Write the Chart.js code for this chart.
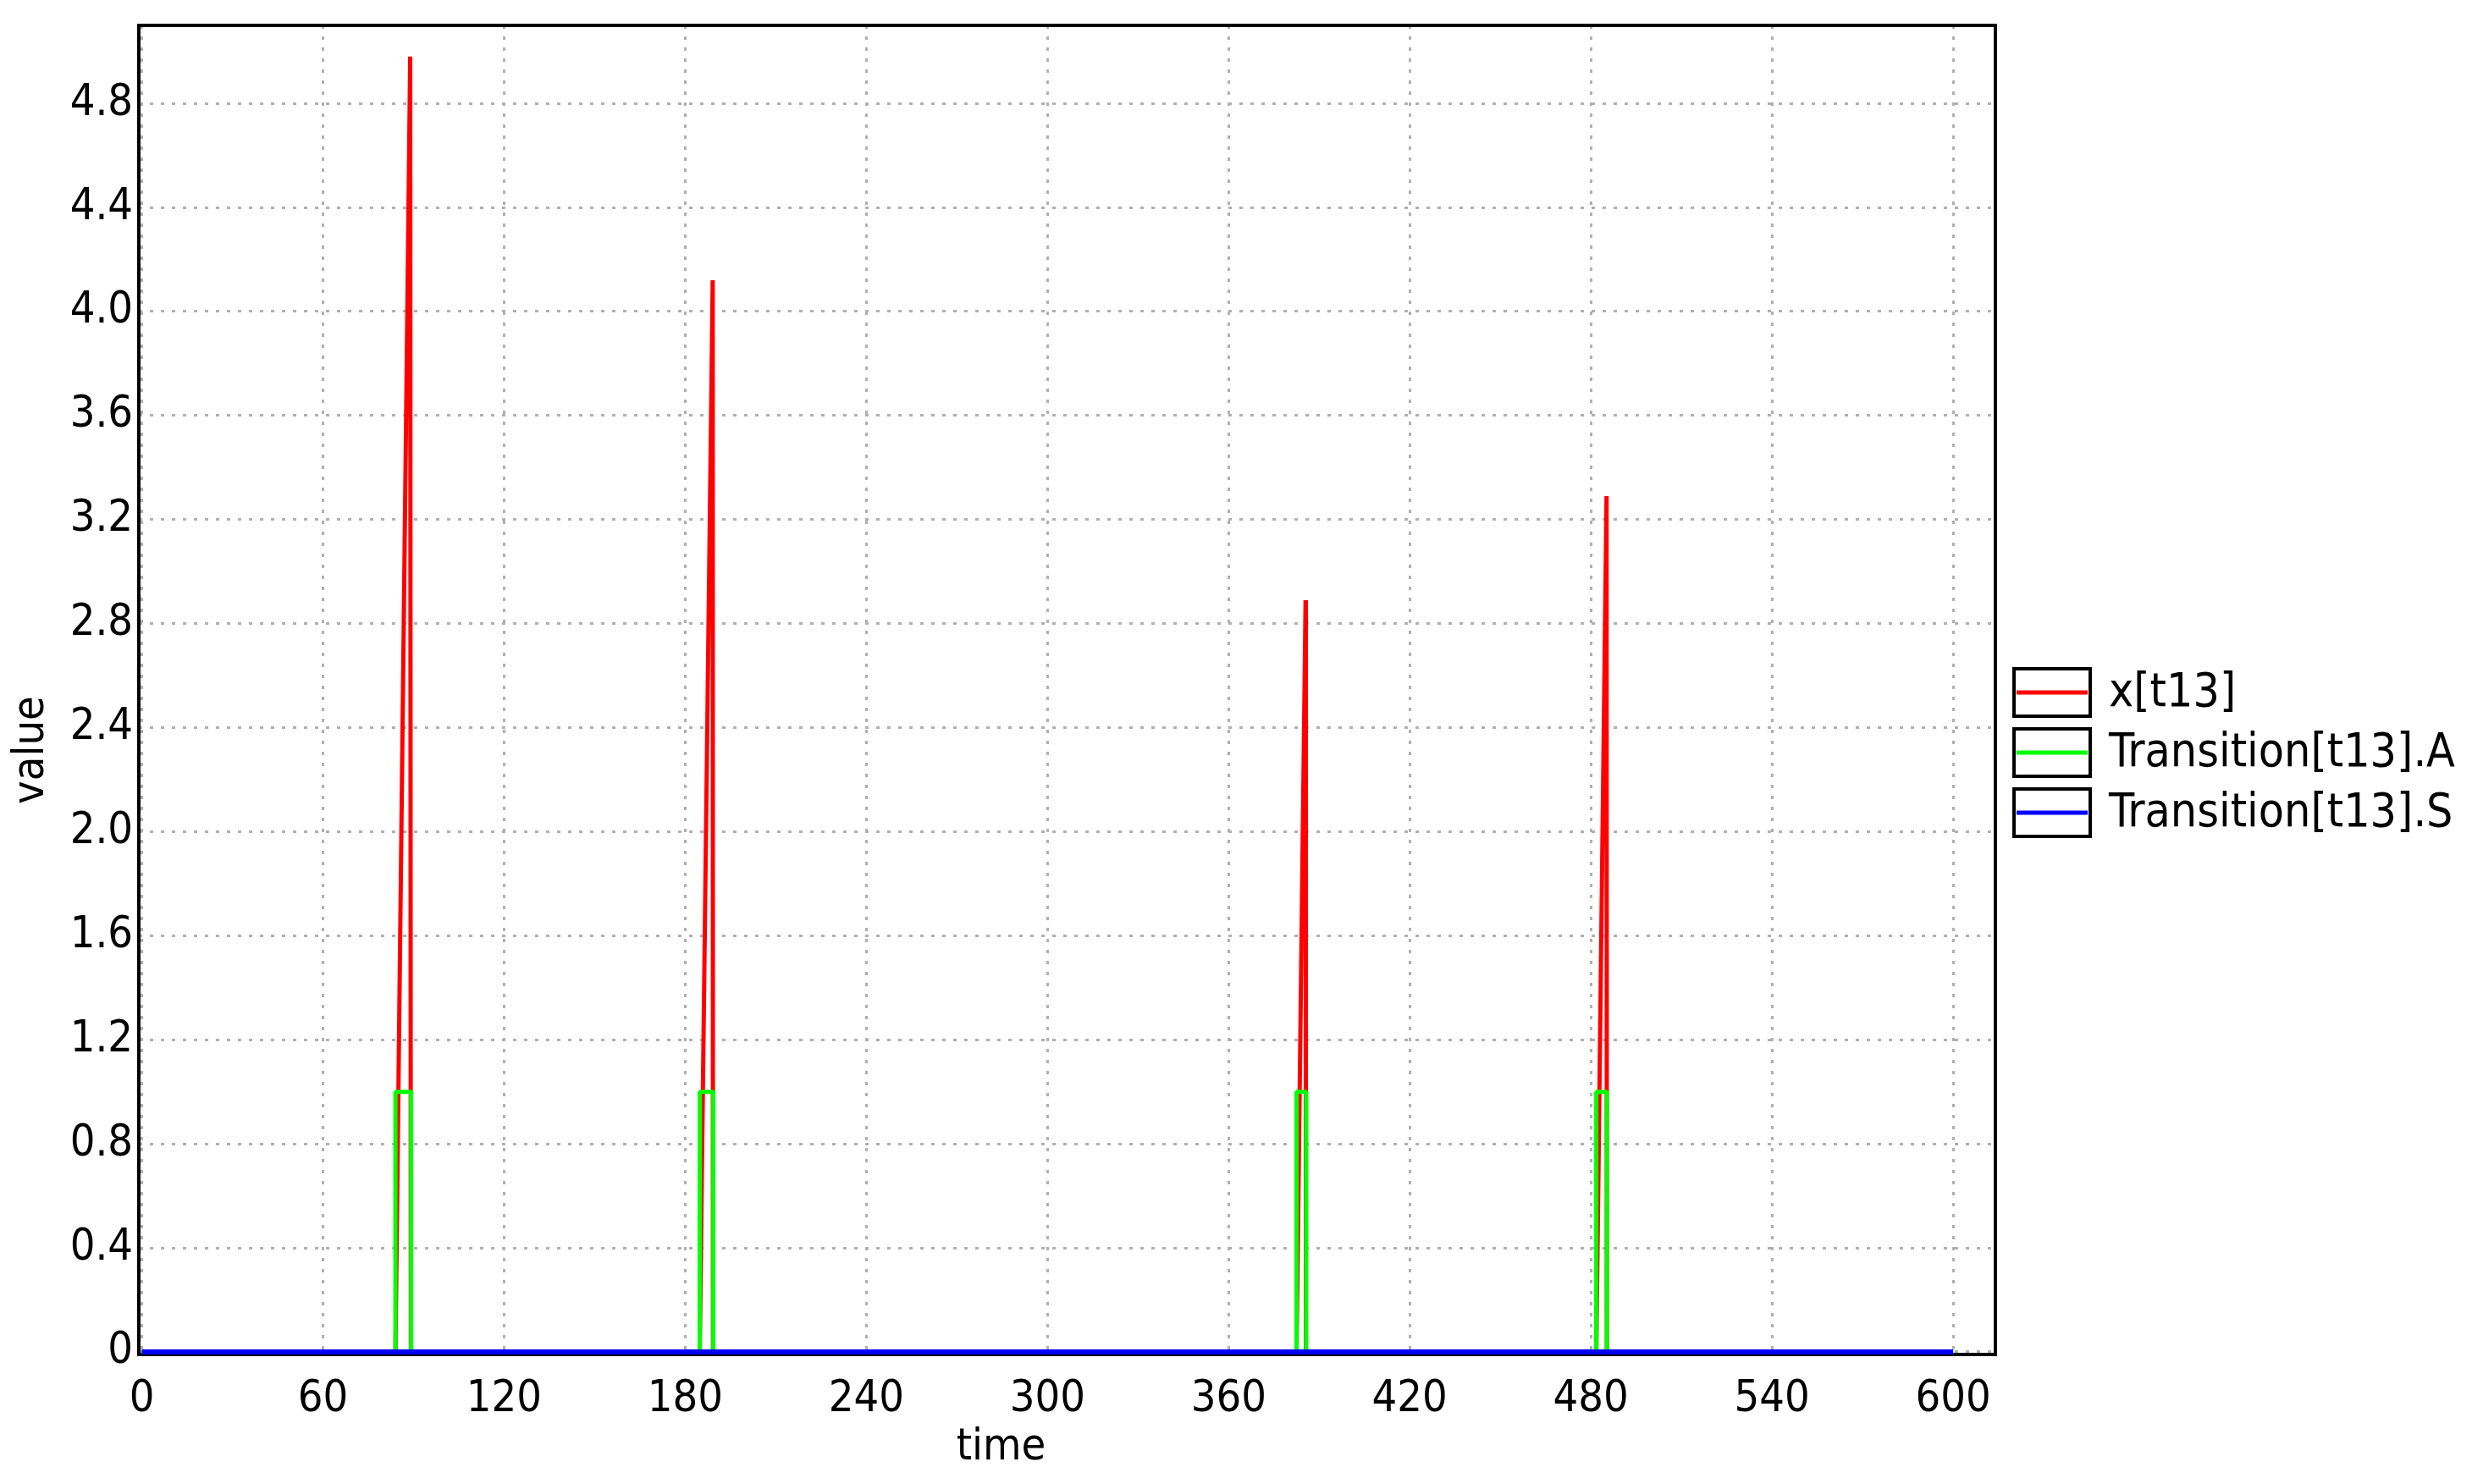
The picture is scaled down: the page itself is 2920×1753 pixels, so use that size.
<!DOCTYPE html>
<html>
<head>
<meta charset="utf-8">
<title>x[t13] over time</title>
<script src="https://cdn.jsdelivr.net/npm/chart.js@4.4.1/dist/chart.umd.min.js"></script>
<style>
  html, body { margin: 0; padding: 0; background: #fff; }
  canvas { display: block; }
</style>
</head>
<body>
<canvas id="plot" width="2920" height="1753"></canvas>
<script>
(() => {
  "use strict";

  // ── Data ──────────────────────────────────────────────────────────────────
  const SERIES_NAMES = ["x[t13]", "Transition[t13].A", "Transition[t13].S"];

  const X_TIME = [0, 84.0, 88.9, 89.1, 184.8, 189.1, 189.2, 382.5, 385.5, 385.6, 481.8, 485.2, 485.3, 600];
  const X_VALUE = [0, 0, 4.98, 0, 0, 4.12, 0, 0, 2.89, 0, 0, 3.29, 0, 0];

  const A_TIME = [0, 84.0, 89.2, 184.8, 189.3, 382.5, 385.7, 481.8, 485.3, 600];
  const A_VALUE = [0, 1, 0, 1, 0, 1, 0, 1, 0, 0];

  const S_TIME = [0, 600];
  const S_VALUE = [0, 0];

  const X_TICKS = [0, 60, 120, 180, 240, 300, 360, 420, 480, 540, 600];
  const Y_TICKS = [0, 0.4, 0.8, 1.2, 1.6, 2.0, 2.4, 2.8, 3.2, 3.6, 4.0, 4.4, 4.8];
  const Y_TICK_LABELS = ["0", "0.4", "0.8", "1.2", "1.6", "2.0", "2.4", "2.8", "3.2", "3.6", "4.0", "4.4", "4.8"];

  const COLORS = ["#ff0000", "#00ff00", "#0000ff"];
  const FONT = '"DejaVu Sans Condensed", "DejaVu Sans", sans-serif';
  const FONT_SIZE = 52;
  const LEGEND_FONT_SIZE = 55;

  const points = (xs, ys) => xs.map((x, i) => ({ x, y: ys[i] }));

  // ── Frame under the curves, titles and boxed legend on top ────────────────
  const framePlugin = {
    id: "frame",
    beforeDatasetsDraw(chart) {
      const { ctx, chartArea: a } = chart;
      ctx.save();
      ctx.strokeStyle = "#000";
      ctx.lineWidth = 4;
      ctx.strokeRect(a.left, a.top, a.right - a.left, a.bottom - a.top);
      ctx.restore();
    },
    afterDatasetsDraw(chart) {
      const { ctx, chartArea: a } = chart;
      ctx.save();
      ctx.fillStyle = "#000";
      ctx.font = `${FONT_SIZE}px ${FONT}`;
      ctx.textAlign = "center";
      ctx.textBaseline = "middle";
      ctx.fillText("time", a.right / 2 + 4, 1710);
      ctx.save();
      ctx.translate(37, 886);
      ctx.rotate(-Math.PI / 2);
      ctx.fillText("value", 0, 0);
      ctx.restore();

      // legend
      const boxLeft = a.right + 22;
      const boxW = 90;
      const boxH = 56;
      ctx.font = `${LEGEND_FONT_SIZE}px ${FONT}`;
      ctx.textAlign = "left";
      SERIES_NAMES.forEach((name, i) => {
        const cy = 818 + i * 71;
        ctx.fillStyle = "#fff";
        ctx.fillRect(boxLeft, cy - boxH / 2, boxW, boxH);
        ctx.strokeStyle = "#000";
        ctx.lineWidth = 4;
        ctx.strokeRect(boxLeft, cy - boxH / 2, boxW, boxH);
        ctx.strokeStyle = COLORS[i];
        ctx.lineWidth = 5;
        ctx.beginPath();
        ctx.moveTo(boxLeft + 3, cy);
        ctx.lineTo(boxLeft + boxW - 3, cy);
        ctx.stroke();
        ctx.fillStyle = "#000";
        ctx.fillText(name, boxLeft + boxW + 22, cy + 2);
      });
      ctx.restore();
    },
  };

  const lineStyle = (i, width) => ({
    borderColor: COLORS[i],
    backgroundColor: COLORS[i],
    borderWidth: width,
    borderJoinStyle: "bevel",
    pointRadius: 0,
    tension: 0,
    fill: false,
  });

  const fitNoPad = (s) => {
    s.paddingTop = 0;
    s.paddingBottom = 0;
    s.paddingLeft = 0;
    s.paddingRight = 0;
  };

  new Chart(document.getElementById("plot"), {
    type: "line",
    data: {
      datasets: [
        { label: SERIES_NAMES[0], data: points(X_TIME, X_VALUE), order: 3, ...lineStyle(0, 5) },
        { label: SERIES_NAMES[1], data: points(A_TIME, A_VALUE), order: 2, stepped: true, ...lineStyle(1, 5) },
        { label: SERIES_NAMES[2], data: points(S_TIME, S_VALUE), order: 1, ...lineStyle(2, 6) },
      ],
    },
    options: {
      responsive: false,
      devicePixelRatio: 1,
      animation: false,
      layout: { padding: { top: 30, right: 563, left: 0, bottom: 0 } },
      plugins: {
        legend: { display: false },
        tooltip: { enabled: false },
      },
      scales: {
        x: {
          type: "linear",
          min: -1,
          max: 614,
          afterBuildTicks: (s) => { s.ticks = X_TICKS.map((v) => ({ value: v })); },
          afterFit: (s) => { s.height = 153; fitNoPad(s); },
          ticks: {
            color: "#000",
            padding: 22,
            maxRotation: 0,
            font: { family: FONT, size: FONT_SIZE },
            callback: (v) => String(v),
          },
          grid: { color: "#b0b0b0", lineWidth: 3, drawTicks: false },
          border: { display: false, dash: [4, 9] },
        },
        y: {
          type: "linear",
          min: -0.01,
          max: 5.1,
          afterBuildTicks: (s) => { s.ticks = Y_TICKS.map((v) => ({ value: v })); },
          afterFit: (s) => { s.width = 164; fitNoPad(s); },
          ticks: {
            color: "#000",
            padding: 7,
            font: { family: FONT, size: FONT_SIZE },
            callback: (v, i) => Y_TICK_LABELS[i],
          },
          grid: { color: "#b0b0b0", lineWidth: 3, drawTicks: false },
          border: { display: false, dash: [4, 9] },
        },
      },
    },
    plugins: [framePlugin],
  });
})();
</script>
</body>
</html>
